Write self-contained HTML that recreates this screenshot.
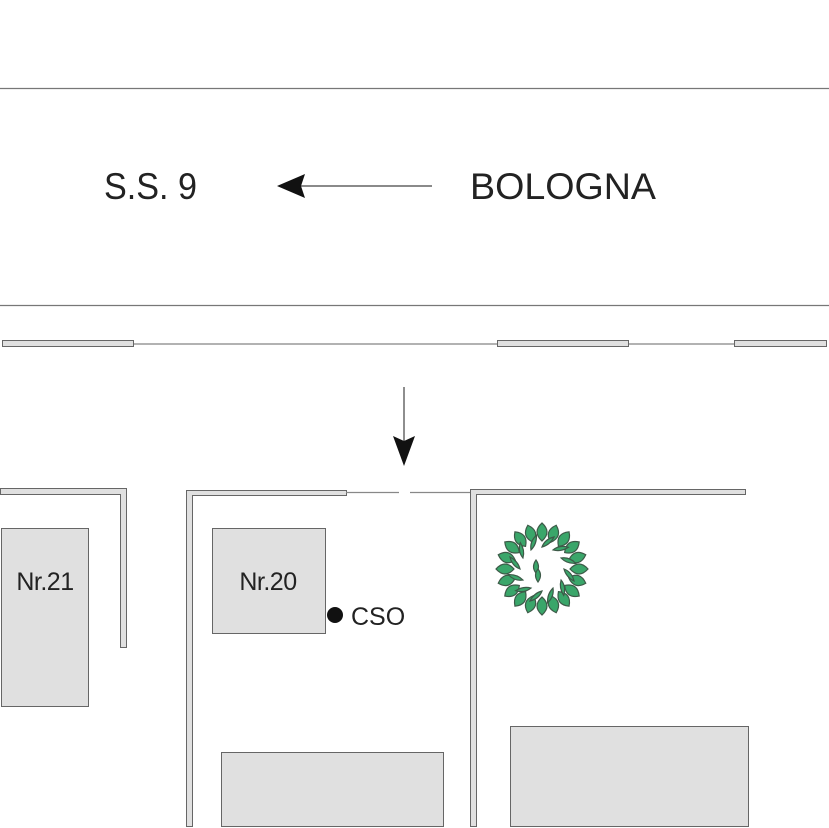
<!DOCTYPE html>
<html><head><meta charset="utf-8"><style>html,body{margin:0;padding:0;background:#fff}svg{display:block}</style></head>
<body>
<svg width="829" height="828" viewBox="0 0 829 828" xmlns="http://www.w3.org/2000/svg" font-family="Liberation Sans, sans-serif">
<rect width="829" height="828" fill="#fff"/>
<line x1="0" y1="88.5" x2="829" y2="88.5" stroke="#777" stroke-width="1.2"/>
<line x1="0" y1="305.5" x2="829" y2="305.5" stroke="#777" stroke-width="1.2"/>
<text x="104" y="199" font-size="37" fill="#222" textLength="93" lengthAdjust="spacingAndGlyphs">S.S. 9</text>
<text x="470" y="199" font-size="37" fill="#222" textLength="186" lengthAdjust="spacingAndGlyphs">BOLOGNA</text>
<line x1="298" y1="186" x2="432" y2="186" stroke="#444" stroke-width="1.2"/>
<polygon points="277,186 305,174 301,186 305,198" fill="#111"/>
<line x1="133" y1="344" x2="497" y2="344" stroke="#999" stroke-width="1.5"/>
<line x1="628" y1="344" x2="734" y2="344" stroke="#999" stroke-width="1.5"/>
<g fill="#e0e0e0" stroke="#666" stroke-width="1">
<rect x="2.5" y="340.5" width="131" height="6"/>
<rect x="497.5" y="340.5" width="131" height="6"/>
<rect x="734.5" y="340.5" width="92" height="6"/>
</g>
<line x1="404" y1="387" x2="404" y2="445" stroke="#444" stroke-width="1.2"/>
<polygon points="404,466 393,436 404,441 415,436" fill="#111"/>
<g fill="#e0e0e0" stroke="#666" stroke-width="1">
<path d="M0.5,488.5 H126.5 V647.5 H120.5 V494.5 H0.5 Z"/>
<path d="M186.5,826.5 V490.5 H346.5 V495.5 H192.5 V826.5 Z"/>
<path d="M470.5,826.5 V489.5 H745.5 V494.5 H476.5 V826.5 Z"/>
</g>
<line x1="346" y1="492.5" x2="399" y2="492.5" stroke="#888" stroke-width="1.2"/>
<line x1="410" y1="492.5" x2="470" y2="492.5" stroke="#888" stroke-width="1.2"/>
<g fill="#e0e0e0" stroke="#666" stroke-width="1">
<rect x="1.5" y="528.5" width="87" height="178"/>
<rect x="212.5" y="528.5" width="113" height="105"/>
<rect x="221.5" y="752.5" width="222" height="74"/>
<rect x="510.5" y="726.5" width="238" height="100"/>
</g>
<text x="45" y="590" font-size="25" fill="#222" text-anchor="middle" letter-spacing="-0.5">Nr.21</text>
<text x="268" y="590" font-size="25" fill="#222" text-anchor="middle" letter-spacing="-0.5">Nr.20</text>
<circle cx="335" cy="615" r="8" fill="#111"/>
<text x="351" y="625" font-size="25" fill="#222">CSO</text>
<g transform="translate(542,569)" fill="#3aa66a" stroke="#3d5a48" stroke-width="1.2">
<g id="lf"><path d="M0,-28 Q10,-37 0,-46 Q-10,-37 0,-28 Z"/></g>
<use href="#lf" transform="rotate(18)"/><use href="#lf" transform="rotate(36)"/><use href="#lf" transform="rotate(54)"/>
<use href="#lf" transform="rotate(72)"/><use href="#lf" transform="rotate(90)"/><use href="#lf" transform="rotate(108)"/>
<use href="#lf" transform="rotate(126)"/><use href="#lf" transform="rotate(144)"/><use href="#lf" transform="rotate(162)"/>
<use href="#lf" transform="rotate(180)"/><use href="#lf" transform="rotate(198)"/><use href="#lf" transform="rotate(216)"/>
<use href="#lf" transform="rotate(234)"/><use href="#lf" transform="rotate(252)"/><use href="#lf" transform="rotate(270)"/>
<use href="#lf" transform="rotate(288)"/><use href="#lf" transform="rotate(306)"/><use href="#lf" transform="rotate(324)"/>
<use href="#lf" transform="rotate(342)"/>
<g id="lf2"><path d="M0,-22 Q8,-24 12,-32 Q3,-30 0,-22 Z"/></g>
<use href="#lf2" transform="rotate(30)"/><use href="#lf2" transform="rotate(60)"/><use href="#lf2" transform="rotate(90)"/>
<use href="#lf2" transform="rotate(120)"/><use href="#lf2" transform="rotate(150)"/><use href="#lf2" transform="rotate(180)"/>
<use href="#lf2" transform="rotate(210)"/><use href="#lf2" transform="rotate(240)"/><use href="#lf2" transform="rotate(270)"/>
<use href="#lf2" transform="rotate(300)"/><use href="#lf2" transform="rotate(330)"/>
<path d="M-6,4 Q-1,-2 -6,-9 Q-11,-2 -6,4 Z"/><path d="M-4,13 Q1,6 -4,0 Q-9,6 -4,13 Z"/>
</g>
</svg>
</body></html>
